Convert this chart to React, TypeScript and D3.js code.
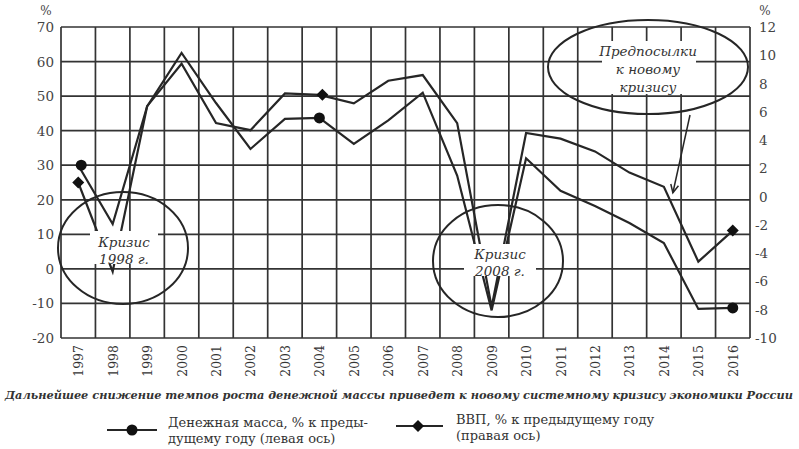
import React from "react";
import * as d3 from "d3";

const years = ["1997","1998","1999","2000","2001","2002","2003","2004","2005","2006","2007","2008","2009","2010","2011","2012","2013","2014","2015","2016"];
const moneySupply = [30, 13, 47, 62.5, 48, 34.7, 43.4, 43.7, 36.2, 43, 51, 27, -12, 32, 22.6, 18.2, 13.3, 7.5, -11.6, -11.3];
const gdp = [1.0, -5.3, 6.4, 9.4, 5.2, 4.7, 7.3, 7.2, 6.6, 8.2, 8.6, 5.2, -7.8, 4.5, 4.1, 3.2, 1.7, 0.7, -4.6, -2.4];
const leftTicks = [70, 60, 50, 40, 30, 20, 10, 0, -10, -20];
const rightTicks = [12, 10, 8, 6, 4, 2, 0, -2, -4, -6, -8, -10];
const markerYears = ["1997", "2004", "2016"];
const caption = "Дальнейшее снижение темпов роста денежной массы приведет к новому системному кризису экономики России";
const legend1 = ["Денежная масса, % к преды-", "дущему году (левая ось)"];
const legend2 = ["ВВП, % к предыдущему году", "(правая ось)"];

const L = 61, R = 750, T = 27, B = 338;
const INK = "#262626";
const serif = "'DejaVu Serif', serif";

export default function App() {
  const x = d3.scaleBand<string>().domain(years).range([L, R]);
  const bw = x.bandwidth();
  const cx = (y: string) => (x(y) as number) + bw / 2;
  const yL = d3.scaleLinear().domain([-20, 70]).range([B, T]);
  const yR = d3.scaleLinear().domain([-10, 12]).range([B, T]);

  const moneyLine = d3.line<number>().x((_, i) => cx(years[i])).y((d) => yL(d))(moneySupply) as string;
  const gdpLine = d3.line<number>().x((_, i) => cx(years[i])).y((d) => yR(d))(gdp) as string;

  const vLines = years.map((y) => x(y) as number).concat([R]);

  const diamond = (px: number, py: number, s = 6) =>
    `M${px},${py - s}L${px + s},${py}L${px},${py + s}L${px - s},${py}Z`;

  // arrow from the "Предпосылки" ellipse to GDP 2014
  const ax0 = 690, ay0 = 115;
  const ax1 = cx("2014") + 9, ay1 = yR(0.7) + 6;
  const ang = Math.atan2(ay1 - ay0, ax1 - ax0);
  const ah = 9;
  const a1 = [ax1 - ah * Math.cos(ang - 0.45), ay1 - ah * Math.sin(ang - 0.45)];
  const a2 = [ax1 - ah * Math.cos(ang + 0.45), ay1 - ah * Math.sin(ang + 0.45)];

  return (
    <svg width={799} height={449} style={{ position: "absolute", left: 0, top: 0, background: "#fff" }}>
      <rect x={0} y={0} width={799} height={449} fill="#fff" />
      {/* grid */}
      {leftTicks.map((t) => (
        <line key={"h" + t} x1={L} x2={R} y1={yL(t)} y2={yL(t)} stroke="#333" strokeWidth={1.7} />
      ))}
      {vLines.map((v, i) => (
        <line key={"v" + i} x1={v} x2={v} y1={T} y2={B} stroke="#333" strokeWidth={1.7} />
      ))}

      {/* left axis labels */}
      <text x={46} y={15} fontFamily={serif} fontSize={12} fill="#444" textAnchor="middle">%</text>
      {leftTicks.map((t) => (
        <text key={"lt" + t} x={54} y={yL(t) + 5} fontFamily={serif} fontSize={13.5} fill="#444" textAnchor="end">{String(t)}</text>
      ))}
      {/* right axis labels */}
      <text x={765} y={15} fontFamily={serif} fontSize={12} fill="#444" textAnchor="middle">%</text>
      {rightTicks.map((t) => (
        <text key={"rt" + t} x={t < 0 ? 755 : 759} y={yR(t) + 5} fontFamily={serif} fontSize={13.5} fill="#444" textAnchor="start">{String(t)}</text>
      ))}

      {/* x labels */}
      {years.map((y) => (
        <text key={"x" + y} transform={`translate(${cx(y) + 5},${345}) rotate(-90)`} fontFamily={serif} fontSize={12.5} fill="#333" textAnchor="end">{y}</text>
      ))}

      {/* series */}
      <path d={moneyLine} fill="none" stroke={INK} strokeWidth={2.2} strokeLinejoin="miter" />
      <path d={gdpLine} fill="none" stroke={INK} strokeWidth={2.2} strokeLinejoin="miter" />
      {markerYears.map((y) => {
        const i = years.indexOf(y);
        return <circle key={"m" + y} cx={cx(y) + (y === "1997" ? 3 : 0)} cy={yL(moneySupply[i])} r={5.5} fill="#111" />;
      })}
      {markerYears.map((y) => {
        const i = years.indexOf(y);
        return <path key={"g" + y} d={diamond(cx(y) + (y === "2004" ? 3 : 0), yR(gdp[i]))} fill="#111" />;
      })}

      {/* annotation: crisis 1998 */}
      <ellipse cx={123} cy={248} rx={65} ry={56} fill="none" stroke={INK} strokeWidth={2} />
      <rect x={90} y={231} width={68} height={33} fill="#fff" />
      <text x={124} y={247} fontFamily={serif} fontStyle="italic" fontSize={13.5} fill="#333" textAnchor="middle">Кризис</text>
      <text x={124} y={264} fontFamily={serif} fontStyle="italic" fontSize={13.5} fill="#333" textAnchor="middle">1998 г.</text>

      {/* annotation: crisis 2008 */}
      <ellipse cx={498} cy={261} rx={65} ry={56} fill="none" stroke={INK} strokeWidth={2} />
      <rect x={464} y={244} width={72} height={32} fill="#fff" />
      <text x={500} y={259} fontFamily={serif} fontStyle="italic" fontSize={13.5} fill="#333" textAnchor="middle">Кризис</text>
      <text x={500} y={276} fontFamily={serif} fontStyle="italic" fontSize={13.5} fill="#333" textAnchor="middle">2008 г.</text>

      {/* annotation: new crisis */}
      <ellipse cx={648} cy={67} rx={100} ry={47} fill="none" stroke={INK} strokeWidth={2} />
      <rect x={602} y={41} width={94} height={53} fill="#fff" />
      <text x={648} y={56} fontFamily={serif} fontStyle="italic" fontSize={13.5} fill="#333" textAnchor="middle">Предпосылки</text>
      <text x={648} y={74} fontFamily={serif} fontStyle="italic" fontSize={13.5} fill="#333" textAnchor="middle">к новому</text>
      <text x={648} y={92} fontFamily={serif} fontStyle="italic" fontSize={13.5} fill="#333" textAnchor="middle">кризису</text>
      <line x1={ax0} y1={ay0} x2={ax1} y2={ay1} stroke={INK} strokeWidth={1.5} />
      <polyline points={`${a1[0]},${a1[1]} ${ax1},${ay1} ${a2[0]},${a2[1]}`} fill="none" stroke={INK} strokeWidth={1.5} />

      {/* caption */}
      <text x={5} y={399} fontFamily={serif} fontStyle="italic" fontWeight="bold" fontSize={11} fill="#333" textLength={788} lengthAdjust="spacingAndGlyphs">{caption}</text>

      {/* legend */}
      <line x1={107} x2={157} y1={430} y2={430} stroke={INK} strokeWidth={2.2} />
      <circle cx={132} cy={430} r={5.5} fill="#111" />
      <text x={168} y={427} fontFamily={serif} fontSize={13} fill="#333">{legend1[0]}</text>
      <text x={168} y={443} fontFamily={serif} fontSize={13} fill="#333">{legend1[1]}</text>
      <line x1={396} x2={443} y1={426} y2={426} stroke={INK} strokeWidth={2.2} />
      <path d={diamond(418, 426)} fill="#111" />
      <text x={456} y={424} fontFamily={serif} fontSize={13} fill="#333">{legend2[0]}</text>
      <text x={456} y={440} fontFamily={serif} fontSize={13} fill="#333">{legend2[1]}</text>
    </svg>
  );
}
